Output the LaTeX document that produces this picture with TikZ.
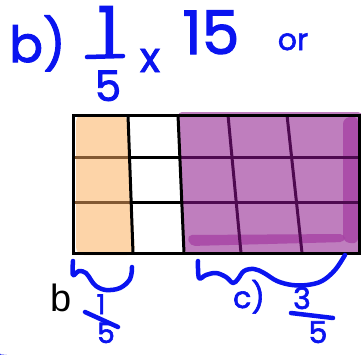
\documentclass[tikz,border=0pt]{standalone}
\usepackage{fontspec}
\setmainfont{Liberation Sans}
\newfontfamily\hand[FakeBold=2]{Poppins}
\usetikzlibrary{shapes.geometric}
\definecolor{inkblue}{RGB}{10,20,240}
\definecolor{peach}{RGB}{253,212,168}
\definecolor{lilac}{RGB}{191,126,190}
\definecolor{deeplilac}{RGB}{166,66,164}
\definecolor{gridpurple}{RGB}{78,10,80}
\definecolor{gridbrown}{RGB}{130,88,50}
\begin{document}
\begin{tikzpicture}[x=1pt,y=-1pt,
  hw/.style={text=inkblue,font=\hand\fontsize{#1}{#1}\selectfont,inner sep=0pt},
  ink/.style={draw=inkblue,line width=4.5pt,line cap=round,line join=round},
  gridline/.style={line width=3pt,line cap=butt}]
\useasboundingbox (0,0) rectangle (361,354);
\fill[white] (0,0) rectangle (361,354);
% highlights
\fill[peach,rounded corners=8pt] (76,114) -- (127,114) -- (135,255) -- (76,255) -- cycle;
\fill[lilac,rounded corners=4pt] (178,112) -- (362,112) -- (362,254) -- (185,254) -- cycle;
\fill[deeplilac,opacity=0.8,rounded corners=6pt] (343,118) -- (358,116) -- (358,244) -- (343,242) -- cycle;
\fill[deeplilac,opacity=0.8,rounded corners=5pt] (187,235) -- (345,234) -- (345,242) -- (190,246) -- cycle;
% grid
\draw[gridline,gridbrown] (73,157) -- (130,157) (73,202) -- (132,202);
\draw[gridline,black] (130,157) -- (181,157) (132,202) -- (183,202);
\draw[gridline,gridpurple] (181,157) -- (359,157) (183,202) -- (359,202);
\draw[gridline,black] (128,115) -- (133,253) (178,115) -- (184,253);
\draw[gridline,gridpurple] (228,115) -- (241,253) (287,115) -- (302,253);
\draw[line width=3pt,black] (73,115) rectangle (359,253);
% top text
\node[hw=50,anchor=base west] (bpar) at (9,62) {b)};
\node[hw=66,anchor=base] (n1) at (108,54) {1};
\draw[ink] (87,57) -- (123,56);
\node[hw=42,anchor=base] (d5) at (108,101) {5};
\node[hw=42,anchor=base] (times) at (150,72) {x};
\node[hw=60,anchor=base] (fifteen) at (211,54) {15};
\node[hw=30,anchor=base] (or) at (293,50) {or};
% black b
\node[font=\fontsize{38}{38}\selectfont,anchor=base west,inner sep=0pt] (bblack) at (50,311) {b};
% braces
\draw[ink] plot[smooth,tension=0.6] coordinates {(73,261) (73,275) (79,271) (86,273) (91,280) (96,286) (106,290) (120,288) (130,279) (132,267)};
\draw[ink] plot[smooth,tension=0.6] coordinates {(198,261) (199,278) (206,275) (216,273) (226,277) (233,283) (238,279) (244,271) (254,269) (264,273) (277,281) (292,285) (307,285) (322,281) (335,270) (345,255)};
% bottom fractions
\node[hw=27,anchor=base] (bl1) at (101,314) {1};
\draw[ink] (85,312) -- (118,327);
\node[hw=28,anchor=base] (bl5) at (106,343) {5};
\node[hw=30,anchor=base] (cpar) at (249,308) {c)};
\node[hw=30,anchor=base] (br3) at (302,309) {3};
\draw[ink] (291,313) -- (333,318);
\node[hw=30,anchor=base] (br5) at (318,343) {5};
% star
\begin{scope}
\clip (0,0) rectangle (361,354);
\node[star,star points=5,star point ratio=2.2,fill=yellow,draw=inkblue,line width=1.2pt,minimum size=38pt,inner sep=0pt] (star) at (-5,362) {};
\end{scope}
\end{tikzpicture}
\end{document}
